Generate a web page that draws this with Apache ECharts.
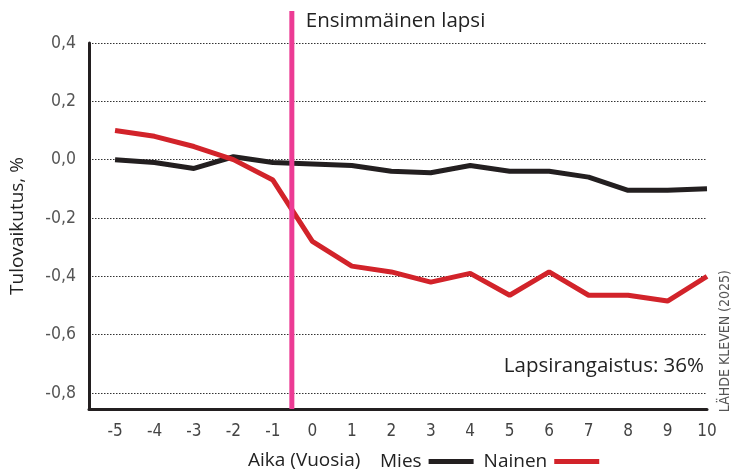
<!DOCTYPE html>
<html>
<head>
<meta charset="utf-8">
<script src="https://cdn.jsdelivr.net/npm/echarts@6/dist/echarts.min.js"></script>
<style>html,body{margin:0;padding:0;background:#fff;}#c{width:734px;height:473px;}</style>
</head>
<body>
<div id="c"></div>
<script>
const years = [-5,-4,-3,-2,-1,0,1,2,3,4,5,6,7,8,9,10];
const mies = [0.0,-0.01,-0.03,0.01,-0.01,-0.015,-0.02,-0.04,-0.045,-0.02,-0.04,-0.04,-0.06,-0.105,-0.105,-0.10];
const nainen = [0.10,0.08,0.045,0.0,-0.07,-0.28,-0.365,-0.385,-0.42,-0.39,-0.465,-0.385,-0.465,-0.465,-0.485,-0.40];
const yTicks = [-0.8,-0.6,-0.4,-0.2,0.0,0.2,0.4];
const firstChildX = -0.52;
const seriesNames = ['Mies','Nainen'];

const labelFont = '"Liberation Sans Narrow","DejaVu Sans Condensed","Open Sans",sans-serif';
const textFont = '"Open Sans","Noto Sans",sans-serif';

const chart = echarts.init(document.getElementById('c'));
chart.setOption({
  animation: false,
  backgroundColor: '#fff',
  textStyle: {fontFamily: textFont},
  title: [
    {text: 'Aika (Vuosia)', left: 243, top: 446, textStyle: {fontSize: 19, fontWeight: 'normal', color: '#222', fontFamily: textFont}},
    {text: 'Lapsirangaistus: 36%', right: 25, top: 351, textStyle: {fontSize: 20.5, fontWeight: 'normal', color: '#222', fontFamily: textFont}}
  ],
  legend: {
    left: 375, top: 447,
    align: 'right',
    icon: 'rect', itemWidth: 45, itemHeight: 5, itemGap: 10,
    textStyle: {fontSize: 19, color: '#222', fontFamily: textFont, padding: [0, 2, 0, 0]},
    data: seriesNames
  },
  grid: [
    {left: 89, right: 27, top: 43, bottom: 64, containLabel: false},
    {left: 89, right: 27, top: 11, bottom: 64, containLabel: false}
  ],
  xAxis: [
    {
      type: 'value', gridIndex: 0, min: -5.66, max: 10,
      axisLine: {show: true, onZero: false, lineStyle: {color: '#231f20', width: 3}},
      axisTick: {show: false, customValues: years},
      splitLine: {show: false},
      axisLabel: {customValues: years, color: '#444', fontSize: 17, fontFamily: labelFont, margin: 14,
        formatter: v => String(Math.round(v))}
    },
    {type: 'value', gridIndex: 1, min: -5.66, max: 10, show: false}
  ],
  yAxis: [
    {
      type: 'value', gridIndex: 0, min: -0.855, max: 0.4,
      name: 'Tulovaikutus, %', nameLocation: 'middle', nameGap: 62,
      nameTextStyle: {fontSize: 19, color: '#222', fontFamily: textFont},
      axisLine: {show: true, onZero: false, lineStyle: {color: '#231f20', width: 3}},
      axisTick: {show: false, customValues: yTicks},
      axisLabel: {customValues: yTicks, color: '#555', fontSize: 17.5, fontFamily: labelFont, margin: 13,
        formatter: v => v.toFixed(1).replace('.', ',')},
      splitLine: {show: true, lineStyle: {color: '#333', width: 1, type: [1.5, 1.5]}}
    },
    {type: 'value', gridIndex: 1, min: 0, max: 1, show: false}
  ],
  series: [
    {
      name: 'Mies', type: 'line', xAxisIndex: 0, yAxisIndex: 0,
      data: years.map((y, i) => [y, mies[i]]),
      symbol: 'none', color: '#231f20',
      lineStyle: {width: 5, color: '#231f20'}, z: 3
    },
    {
      name: 'Nainen', type: 'line', xAxisIndex: 0, yAxisIndex: 0,
      data: years.map((y, i) => [y, nainen[i]]),
      symbol: 'none', color: '#d2232a',
      lineStyle: {width: 5, color: '#d2232a'}, z: 4
    },
    {
      name: 'Ensimmäinen lapsi', type: 'line', xAxisIndex: 1, yAxisIndex: 1,
      data: [[firstChildX, 0], [firstChildX, 1]],
      symbol: 'none', color: '#ec3b94',
      lineStyle: {width: 5, color: '#ec3b94'}, z: 5,
      endLabel: {show: true, distance: 14, offset: [0, 10],
        formatter: 'Ensimmäinen lapsi', fontSize: 20.5, color: '#222', fontFamily: textFont}
    }
  ],
  graphic: [
    {type: 'text', left: 718, top: 270, rotation: Math.PI / 2,
      style: {text: 'LÄHDE KLEVEN (2025)', fontSize: 14, fill: '#555', fontFamily: labelFont}}
  ]
});
</script>
</body>
</html>
